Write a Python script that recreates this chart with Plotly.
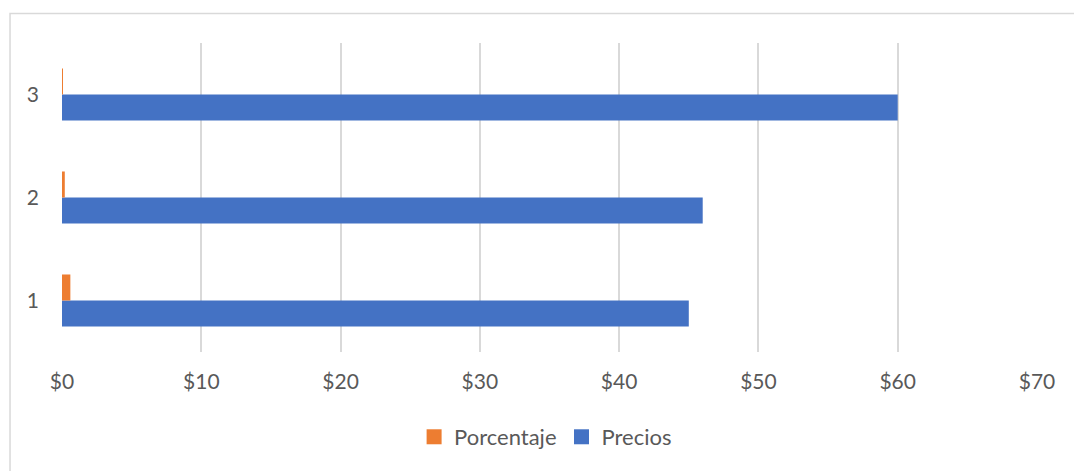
import plotly.graph_objects as go

# Categories and series values
categorias = ["1", "2", "3"]
precios = [45, 46, 60]
porcentaje = [0.6, 0.2, 0.07]

x_ticks = [0, 10, 20, 30, 40, 50, 60, 70]
x_tick_labels = ["$0", "$10", "$20", "$30", "$40", "$50", "$60", "$70"]

AZUL = "#4472C4"
NARANJA = "#ED7D31"
GRIS_TEXTO = "#595959"
GRIS_LINEA = "#D9D9D9"
FUENTE = "Lato, 'Open Sans', sans-serif"

fig = go.Figure()
# Precios first so that Porcentaje sits above it in each group
fig.add_trace(go.Bar(
    y=categorias, x=precios, orientation="h", name="Precios",
    marker=dict(color=AZUL, line=dict(width=0)), showlegend=False,
))
fig.add_trace(go.Bar(
    y=categorias, x=porcentaje, orientation="h", name="Porcentaje",
    marker=dict(color=NARANJA, line=dict(width=0)), showlegend=False,
))

# Legend entries with square swatches
for nombre, color in [("Precios", AZUL), ("Porcentaje", NARANJA)]:
    fig.add_trace(go.Scatter(
        x=[None], y=[None], mode="markers", name=nombre,
        marker=dict(symbol="square", size=15, color=color),
        hoverinfo="skip",
    ))

fig.update_layout(
    width=1074, height=471,
    margin=dict(l=61.5, r=37, t=43, b=119),
    paper_bgcolor="white", plot_bgcolor="white",
    barmode="group", bargap=0.495, bargroupgap=0,
    font=dict(family=FUENTE, size=21, color=GRIS_TEXTO),
    showlegend=True,
    legend=dict(
        orientation="h", traceorder="reversed",
        x=0.496, xanchor="center", y=-0.275, yanchor="middle",
        font=dict(size=22, color=GRIS_TEXTO),
        itemwidth=30,
    ),
    xaxis=dict(
        range=[0, 70], tickvals=x_ticks, ticktext=x_tick_labels,
        showgrid=True, gridcolor=GRIS_LINEA, gridwidth=1.5,
        zeroline=False, showline=False, ticks="",
        ticklabelstandoff=15,
    ),
    yaxis=dict(
        type="category", showgrid=False, zeroline=False, showline=False,
        ticks="", ticklabelstandoff=22,
    ),
    shapes=[dict(
        type="rect", xref="paper", yref="paper",
        x0=-0.0533, x1=2, y0=-2, y1=1.0955,
        line=dict(color=GRIS_LINEA, width=1.5), fillcolor="rgba(0,0,0,0)",
        layer="below",
    )],
)

fig.write_html("out.html")
